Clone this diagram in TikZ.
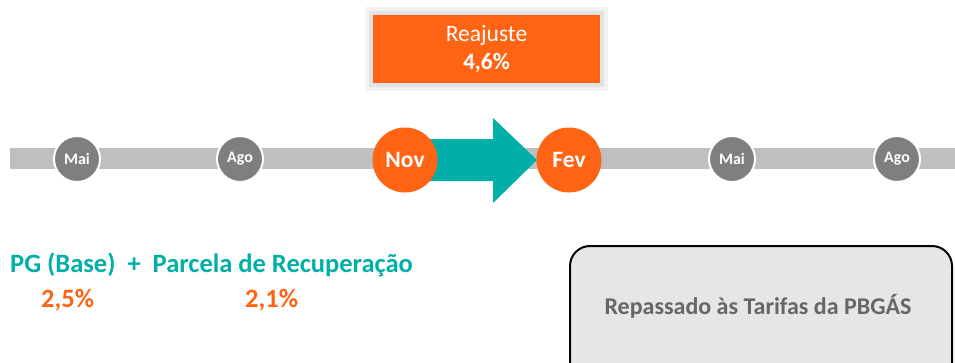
\documentclass[tikz,border=0pt]{standalone}
\usepackage{fontspec}
\setmainfont{Carlito}
\usepackage{tikz}
\definecolor{pb_orange}{HTML}{FF6414}
\definecolor{pb_teal}{HTML}{00AFA8}
\definecolor{pb_bar}{HTML}{BFBFBF}
\definecolor{pb_dot}{HTML}{7F7F7F}
\definecolor{pb_box}{HTML}{E6E6E6}
\definecolor{pb_text}{HTML}{666666}
\tikzset{
  big_font/.style = {font=\fontsize{23.5}{24}\selectfont},
  dot_font/.style = {font=\bfseries\fontsize{16}{18}\selectfont},
  label_font/.style = {font=\bfseries\fontsize{26.5}{28}\selectfont}
}
\tikzset{
  banner/.style = {big_font, fill=pb_orange, text=white, align=center,
    minimum width=227, minimum height=68, inner sep=0},
  small_dot/.style = {dot_font, circle, fill=pb_dot, text=white, draw=white,
    line width=2, minimum size=46, inner sep=0},
  big_dot/.style = {label_font, font=\bfseries\fontsize{23.5}{24}\selectfont,
    circle, fill=pb_orange, text=white, minimum size=65, inner sep=0},
  part/.style = {label_font, text=pb_teal, anchor=base west, inner sep=0},
  value/.style = {label_font, text=pb_orange, anchor=base west, inner sep=0},
  result/.style = {rounded corners=20, fill=pb_box, draw=black, line width=2,
    minimum width=382, minimum height=150, anchor=north west},
  result_text/.style = {font=\bfseries\fontsize{24}{26}\selectfont, text=pb_text}
}
\usetikzlibrary{positioning}
\begin{document}
\begin{tikzpicture}[x=1pt, y=-1pt]
        \useasboundingbox (0,0) rectangle (955,362);

        % Reajuste
        \fill[black!5] (365,7) rectangle (608,91);
        \fill[black!11] (369,11) rectangle (604,87);
        \node[banner] (reaj) at (486.5,49) {Reajuste\\[4pt] \textbf{4,6\%}};

        % Timeline
        \coordinate (bar_l) at (10,148);
        \coordinate (bar_r) at (955,169);
        \fill[pb_bar] (bar_l) rectangle (bar_r);

        \coordinate (nov_c) at (405,160);
        \fill[pb_teal] (405,139) -- (493,139) -- (493,118) -- (537,160)
            -- (493,203) -- (493,181) -- (405,181) -- cycle;

        \node[small_dot] (mai_1) at (77,159) {Mai};
        \node[small_dot] (ago_1) at (240,159) {Ago};
        \node[big_dot] (nov) at (nov_c) {Nov};
        \node[big_dot] (fev) at (569,160) {Fev};
        \node[small_dot] (mai_2) at (732,159) {Mai};
        \node[small_dot] (ago_2) at (897,159) {Ago};

        % Parcelas
        \node[part] (pg) at (10,272) {PG (Base)\ \ +\ \ Parcela de Recupera\c{c}\~ao};
        \node[value] (pg_v) at (41,307) {2,5\%};
        \node[value] (rec_v) at (245,307) {2,1\%};

        % Repasse
        \node[result] (rep) at (569,245) {};
        \node[result_text] (rep_t) at (758,306) {Repassado \`as Tarifas da PBG\'AS};
    \end{tikzpicture}
\end{document}
